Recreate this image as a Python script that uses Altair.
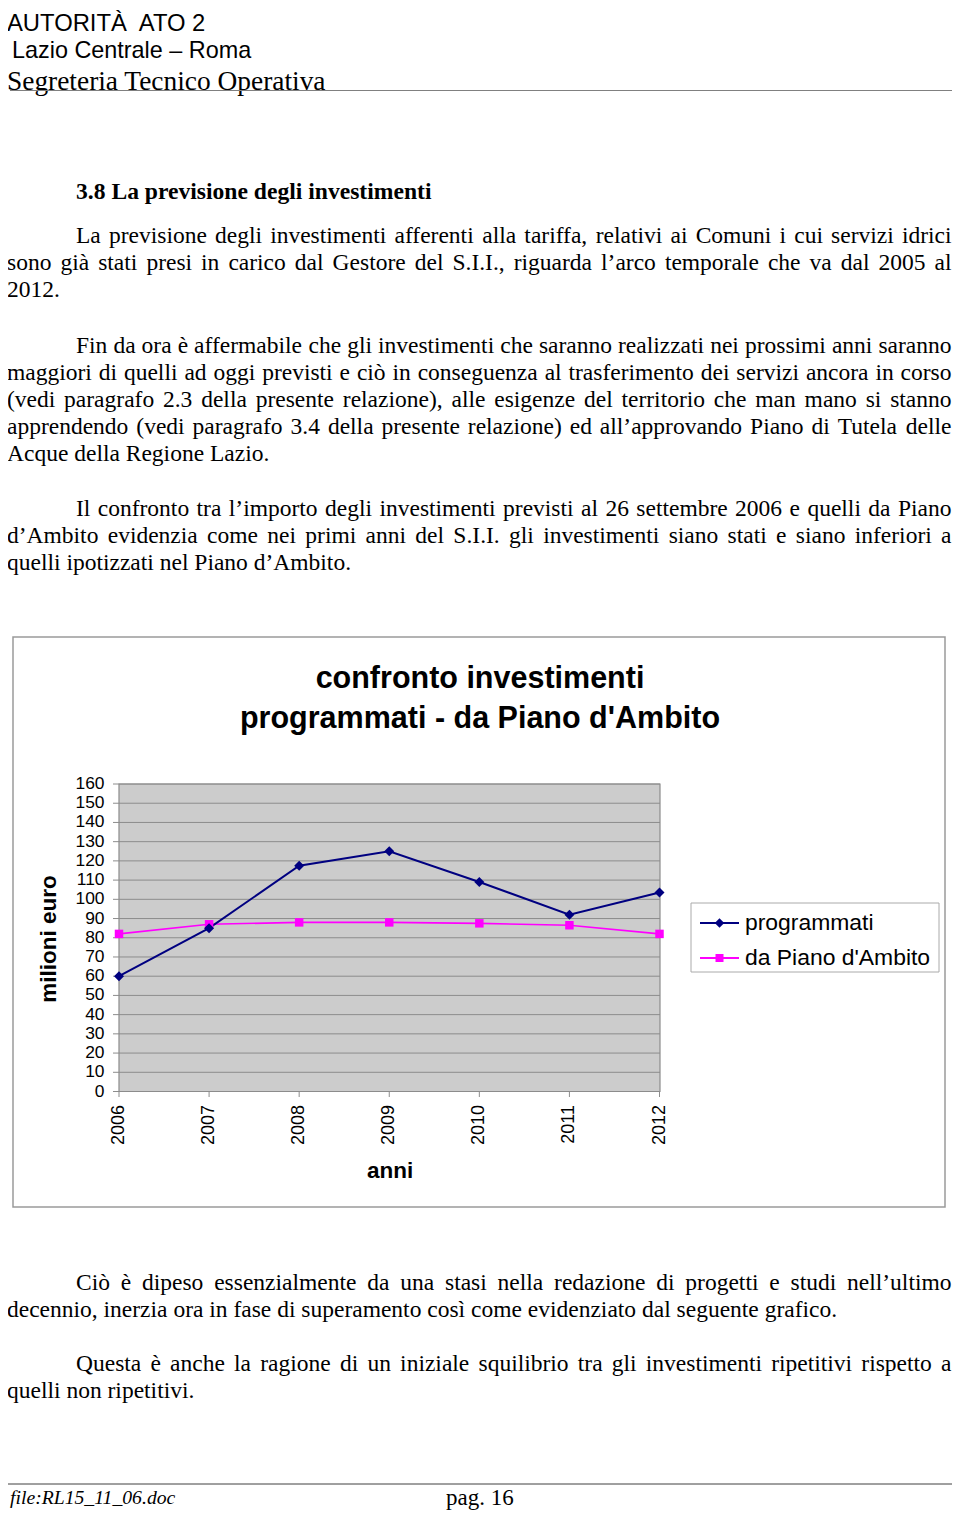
import unicodedata
import altair as alt
import pandas as pd

# ---------------- data ----------------
anni = ["2006", "2007", "2008", "2009", "2010", "2011", "2012"]
programmati = [60, 85, 117.5, 125, 109, 92, 103.5]
piano_ambito = [82, 87, 88, 88, 87.5, 86.5, 82]
serie_nomi = ["programmati", "da Piano d'Ambito"]
y_ticks = list(range(0, 161, 10))

titolo = ["confronto investimenti", "programmati - da Piano d'Ambito"]
titolo_y = "milioni euro"
titolo_x = "anni"

intestazione = ["AUTORITÀ\u00a0 ATO 2", "Lazio Centrale – Roma", "Segreteria Tecnico Operativa"]
capitolo = "3.8 La previsione degli investimenti"
paragrafi = [
    ["La previsione degli investimenti afferenti alla tariffa, relativi ai Comuni i cui servizi idrici",
     "sono già stati presi in carico dal Gestore del S.I.I., riguarda l’arco temporale che va dal 2005 al",
     "2012."],
    ["Fin da ora è affermabile che gli investimenti che saranno realizzati nei prossimi anni saranno",
     "maggiori di quelli ad oggi previsti e ciò in conseguenza al trasferimento dei servizi ancora in corso",
     "(vedi paragrafo 2.3 della presente relazione), alle esigenze del territorio che man mano si stanno",
     "apprendendo (vedi paragrafo 3.4 della presente relazione) ed all’approvando Piano di Tutela delle",
     "Acque della Regione Lazio."],
    ["Il confronto tra l’importo degli investimenti previsti al 26 settembre 2006 e quelli da Piano",
     "d’Ambito evidenzia come nei primi anni del S.I.I. gli investimenti siano stati e siano inferiori a",
     "quelli ipotizzati nel Piano d’Ambito."],
    ["Ciò è dipeso essenzialmente da una stasi nella redazione di progetti e studi nell’ultimo",
     "decennio, inerzia ora in fase di superamento così come evidenziato dal seguente grafico."],
    ["Questa è anche la ragione di un iniziale squilibrio tra gli investimenti ripetitivi rispetto a",
     "quelli non ripetitivi."],
]
piede_file = "file:RL15_11_06.doc"
piede_pagina = "pag. 16"

# ---------------- layout ----------------
OFF = 8


def px(v):
    return v - OFF


SERIF = "Liberation Serif"
SANS = "Liberation Sans"
FS_BODY = 23.5
LINE_H = 27
PAR_BASE = [243.3, 352.5, 515.5, 1289.5, 1370.5]
LEFT_FIRST, LEFT, RIGHT = 76, 7, 951.5

# Times-Roman advance widths (1/1000 em), used only to justify lines
_TW = {" ": 250, "(": 333, ")": 333, ",": 250, "-": 333, ".": 250, ":": 278,
       "’": 333, "'": 180, "–": 500, "_": 500,
       "A": 722, "B": 667, "C": 667, "D": 722, "E": 611, "F": 556, "G": 722, "H": 722,
       "I": 333, "J": 389, "K": 722, "L": 611, "M": 889, "N": 722, "O": 722, "P": 556,
       "Q": 722, "R": 667, "S": 556, "T": 611, "U": 722, "V": 722, "W": 944, "X": 722,
       "Y": 722, "Z": 611,
       "a": 444, "b": 500, "c": 444, "d": 500, "e": 444, "f": 333, "g": 500, "h": 500,
       "i": 278, "j": 278, "k": 500, "l": 278, "m": 778, "n": 500, "o": 500, "p": 500,
       "q": 500, "r": 333, "s": 389, "t": 278, "u": 500, "v": 500, "w": 722, "x": 500,
       "y": 500, "z": 444}


def larghezza(s, fs):
    tot = 0
    for c in s:
        base = unicodedata.normalize("NFD", c)[0]
        tot += _TW.get(base, 500)
    return tot * fs / 1000.0


righe = []
for base_y, par in zip(PAR_BASE, paragrafi):
    for i, line in enumerate(par):
        parole = line.split()
        left = LEFT_FIRST if i == 0 else LEFT
        ws = [larghezza(w, FS_BODY) for w in parole]
        last = i == len(par) - 1
        if not last and len(parole) > 1:
            gap = (RIGHT - left - sum(ws)) / (len(parole) - 1)
        else:
            gap = larghezza(" ", FS_BODY)
        x = left
        for w, wd in zip(parole, ws):
            righe.append({"w": w, "x": px(x), "y": px(base_y + i * LINE_H)})
            x += wd + gap
df_parole = pd.DataFrame(righe)

df_serie = pd.DataFrame({
    "anno": anni * 2,
    "val": programmati + piano_ambito,
    "serie": [serie_nomi[0]] * len(anni) + [serie_nomi[1]] * len(anni),
})
df_ticks = pd.DataFrame({"val": y_ticks})
df_anni = pd.DataFrame({"anno": anni})
one = pd.DataFrame({"k": [0]})

X_SCALE = alt.Scale(type="point", domain=anni, range=[px(119), px(659.5)], padding=0)
Y_SCALE = alt.Scale(domain=[0, 160], range=[px(1091.5), px(784)], nice=False, zero=False)
XE = alt.X("anno:O", scale=X_SCALE, axis=None)
YE = alt.Y("val:Q", scale=Y_SCALE, axis=None)

NAVY = "#000080"
MAGENTA = "#FF00FF"
GRID = "#8c8c8c"

layers = []


def txt(s, x, y, **kw):
    return alt.Chart(one).mark_text(**kw).encode(
        x=alt.value(px(x)), y=alt.value(px(y)), text=alt.value(s))


# header
layers.append(txt(intestazione[0], 7, 23.5, font=SANS, fontSize=23.8, align="left", color="black"))
layers.append(txt(intestazione[1], 12, 50.5, font=SANS, fontSize=23.4, align="left", color="black"))
layers.append(txt(intestazione[2], 7, 81.7, font=SERIF, fontSize=27.4, align="left", color="black"))
layers.append(alt.Chart(one).mark_rule(color="#808080", strokeWidth=1).encode(
    x=alt.value(px(10)), x2=alt.value(px(958)), y=alt.value(px(90.5))))

# heading
layers.append(txt(capitolo, 76, 191.7, font=SERIF, fontSize=23.6, fontWeight="bold", align="left", color="black"))

# paragraphs
layers.append(alt.Chart(df_parole).mark_text(
    font=SERIF, fontSize=FS_BODY, align="left", baseline="alphabetic", color="black").encode(
    x=alt.X("x:Q", scale=None, axis=None), y=alt.Y("y:Q", scale=None, axis=None), text="w:N"))

# chart box
layers.append(alt.Chart(one).mark_rect(fill="white", stroke="#9a9a9a", strokeWidth=1.5).encode(
    x=alt.value(px(13)), x2=alt.value(px(945)), y=alt.value(px(637)), y2=alt.value(px(1207))))

# chart title
layers.append(txt(titolo[0], 480, 679, font=SANS, fontSize=30.5, fontWeight="bold", align="center", color="black"))
layers.append(txt(titolo[1], 480, 719, font=SANS, fontSize=30.5, fontWeight="bold", align="center", color="black"))

# plot background
layers.append(alt.Chart(one).mark_rect(fill="#cccccc").encode(
    x=alt.value(px(119)), x2=alt.value(px(660)), y=alt.value(px(784)), y2=alt.value(px(1091.5))))

# gridlines + y ticks
layers.append(alt.Chart(df_ticks).mark_rule(color=GRID, strokeWidth=1).encode(
    y=YE, x=alt.value(px(113)), x2=alt.value(px(660))))

# frame
layers.append(alt.Chart(one).mark_rect(fillOpacity=0, stroke=GRID, strokeWidth=1.2).encode(
    x=alt.value(px(119)), x2=alt.value(px(660)), y=alt.value(px(784)), y2=alt.value(px(1091.5))))

# x ticks
layers.append(alt.Chart(df_anni).mark_rule(color=GRID, strokeWidth=1).encode(
    x=XE, y=alt.value(px(1091.5)), y2=alt.value(px(1097))))

# y labels
layers.append(alt.Chart(df_ticks).mark_text(
    font=SANS, fontSize=17.4, align="right", baseline="middle", color="black").encode(
    y=YE, x=alt.value(px(104.5)), text=alt.Text("val:Q")))

# x labels
layers.append(alt.Chart(df_anni).mark_text(
    font=SANS, fontSize=18, angle=270, align="right", baseline="middle", color="black").encode(
    x=XE, y=alt.value(px(1105)), text="anno:N"))

# axis titles
layers.append(txt(titolo_y, 49, 939, font=SANS, fontSize=22.5, fontWeight="bold", angle=270,
                  align="center", baseline="middle", color="black"))
layers.append(txt(titolo_x, 390, 1171, font=SANS, fontSize=22.5, fontWeight="bold", align="center", color="black"))

# series
prog = alt.Chart(df_serie).transform_filter(alt.datum.serie == serie_nomi[0])
piano = alt.Chart(df_serie).transform_filter(alt.datum.serie == serie_nomi[1])
layers.append(piano.mark_line(color=MAGENTA, strokeWidth=1.6).encode(x=XE, y=YE))
layers.append(prog.mark_line(color=NAVY, strokeWidth=2).encode(x=XE, y=YE))
layers.append(piano.mark_point(shape="square", filled=True, size=72, color=MAGENTA, opacity=1).encode(x=XE, y=YE))
layers.append(prog.mark_point(shape="diamond", filled=True, size=100, color=NAVY, opacity=1).encode(x=XE, y=YE))

# legend
layers.append(alt.Chart(one).mark_rect(fill="white", stroke="#aaaaaa", strokeWidth=1).encode(
    x=alt.value(px(691)), x2=alt.value(px(939)), y=alt.value(px(903)), y2=alt.value(px(972))))
for nome, col, shape, size, ly in [(serie_nomi[0], NAVY, "diamond", 90, 923),
                                   (serie_nomi[1], MAGENTA, "square", 64, 958)]:
    layers.append(alt.Chart(one).mark_rule(color=col, strokeWidth=1.8).encode(
        x=alt.value(px(700)), x2=alt.value(px(739)), y=alt.value(px(ly))))
    layers.append(alt.Chart(one).mark_point(shape=shape, filled=True, size=size, color=col, opacity=1).encode(
        x=alt.value(px(719.5)), y=alt.value(px(ly))))
    layers.append(txt(nome, 745, ly, font=SANS, fontSize=22.9, align="left", baseline="middle", color="black"))

# footer
layers.append(alt.Chart(one).mark_rule(color="#404040", strokeWidth=1).encode(
    x=alt.value(px(8)), x2=alt.value(px(958)), y=alt.value(px(1484))))
layers.append(txt(piede_file, 10, 1498, font=SERIF, fontSize=19.7, fontStyle="italic", align="left", color="black"))
layers.append(txt(piede_pagina, 446, 1498, font=SERIF, fontSize=23, align="left", color="black"))

chart = alt.layer(*layers).resolve_scale(x="independent", y="independent").properties(
    width=944, height=1503, padding=0, autosize=alt.AutoSizeParams(type="none"),
    background="white",
).configure_view(stroke=None)

chart.save("out.html", embed_options={"renderer": "svg", "actions": False})
